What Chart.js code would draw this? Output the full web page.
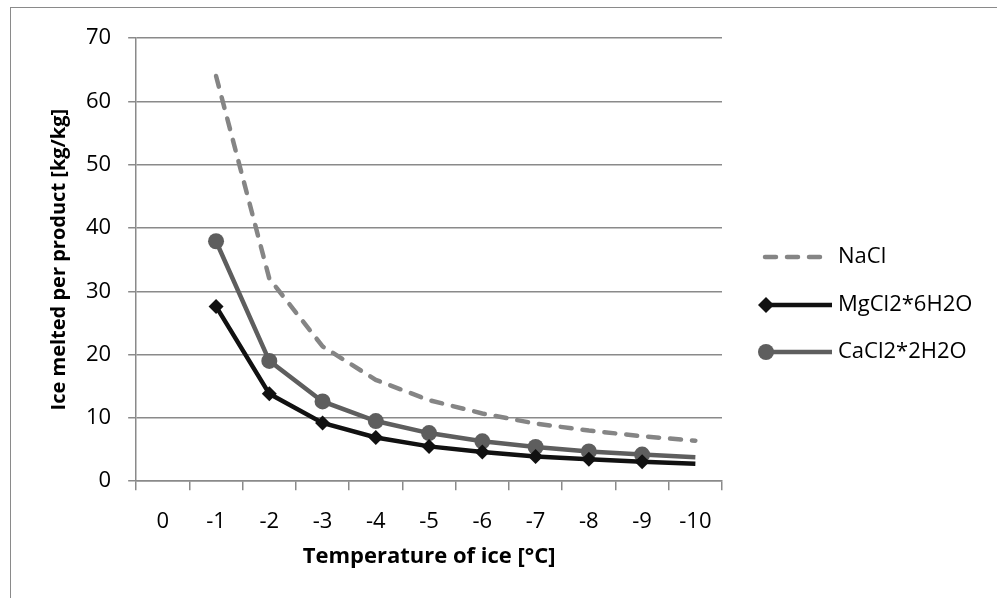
<!DOCTYPE html>
<html>
<head>
<meta charset="utf-8">
<script src="https://cdn.jsdelivr.net/npm/chart.js@4.4.1/dist/chart.umd.min.js"></script>
<style>
  html, body { margin: 0; padding: 0; background: #fff; }
  #frame { position: absolute; left: 10px; top: 7px; width: 1000px; height: 600px; border: 1px solid #8a8a8a; }
  #wrap { position: absolute; left: 0; top: 0; width: 997px; height: 598px; }
</style>
</head>
<body>
<div id="frame"></div>
<div id="wrap"><canvas id="grafico"></canvas></div>
<script>
// Categorías del eje X (temperatura del hielo)
const temperaturas = ['0', '-1', '-2', '-3', '-4', '-5', '-6', '-7', '-8', '-9', '-10'];

// Hielo fundido por producto [kg/kg]
const nacl = [null, 64, 32, 21.3, 16, 12.8, 10.7, 9.1, 8, 7.1, 6.4];
const mgcl2 = [null, 27.6, 13.8, 9.2, 6.9, 5.5, 4.6, 3.9, 3.45, 3.07, 2.76];
const cacl2 = [null, 37.9, 19, 12.6, 9.5, 7.6, 6.3, 5.4, 4.7, 4.2, 3.8];

const nombres = ['NaCl', 'MgCl2*6H2O', 'CaCl2*2H2O'];

const fuente = "'Open Sans', 'Liberation Sans', sans-serif";
const gris = '#8a8a8a';

// Marcadores en todos los puntos menos el último
const radios = (r) => temperaturas.map((t, i) => (i === temperaturas.length - 1 ? 0 : r));

// Leyenda dibujada a mano (línea + marcador como en Excel)
const leyendaPlugin = {
    id: 'leyendaExcel',
    afterDraw(chart) {
        const ctx = chart.ctx;
        const x0 = chart.chartArea.right + 41;
        const x1 = x0 + 69;
        const ys = [257, 305, 352];
        chart.data.datasets.forEach((ds, i) => {
            const y = ys[i];
            ctx.save();
            ctx.strokeStyle = ds.borderColor;
            ctx.lineWidth = ds.borderWidth;
            ctx.lineCap = ds.borderCapStyle || 'butt';
            ctx.setLineDash(ds.borderDash || []);
            ctx.beginPath();
            ctx.moveTo(x0 + (ds.borderDash ? 2 : 0), y);
            ctx.lineTo(ds.borderDash ? x1 - 6 : x1, y);
            ctx.stroke();
            ctx.setLineDash([]);
            if (ds.pointStyle && !ds.borderDash) {
                ctx.fillStyle = ds.pointBackgroundColor;
                ctx.beginPath();
                const r = ds.legendRadius;
                if (ds.pointStyle === 'circle') {
                    ctx.arc(x0 + 3, y, r, 0, Math.PI * 2);
                } else {
                    ctx.moveTo(x0 + 3, y - r);
                    ctx.lineTo(x0 + 3 + r, y);
                    ctx.lineTo(x0 + 3, y + r);
                    ctx.lineTo(x0 + 3 - r, y);
                    ctx.closePath();
                }
                ctx.fill();
            }
            ctx.fillStyle = '#000';
            ctx.font = '22px ' + fuente;
            ctx.textBaseline = 'middle';
            ctx.textAlign = 'left';
            ctx.fillText(ds.label, x1 + 6, y);
            ctx.restore();
        });
    }
};

const ctx = document.getElementById('grafico').getContext('2d');

new Chart(ctx, {
    type: 'line',
    data: {
        labels: temperaturas,
        datasets: [
            {
                label: nombres[0],
                data: nacl,
                borderColor: '#858585',
                borderWidth: 4.5,
                borderDash: [11, 11],
                borderCapStyle: 'round',
                pointRadius: 0,
                pointStyle: false,
                fill: false,
                tension: 0
            },
            {
                label: nombres[1],
                data: mgcl2,
                borderColor: '#111111',
                borderWidth: 4.5,
                pointStyle: 'rectRot',
                pointRadius: radios(7.5),
                pointBackgroundColor: '#111111',
                pointBorderColor: '#111111',
                pointBorderWidth: 0,
                legendRadius: 8,
                fill: false,
                tension: 0
            },
            {
                label: nombres[2],
                data: cacl2,
                borderColor: '#5e5e5e',
                borderWidth: 4.5,
                pointStyle: 'circle',
                pointRadius: radios(8),
                pointBackgroundColor: '#5e5e5e',
                pointBorderColor: '#5e5e5e',
                pointBorderWidth: 0,
                legendRadius: 8,
                fill: false,
                tension: 0
            }
        ]
    },
    options: {
        responsive: true,
        maintainAspectRatio: false,
        animation: false,
        layout: { padding: { left: 47, right: 275, top: 38, bottom: 28 } },
        plugins: {
            legend: { display: false },
            tooltip: { enabled: false }
        },
        scales: {
            x: {
                offset: true,
                grid: {
                    offset: true,
                    drawOnChartArea: false,
                    drawTicks: true,
                    tickLength: 9,
                    color: gris,
                    lineWidth: 1.5
                },
                border: { color: gris, width: 1.5 },
                ticks: {
                    color: '#000',
                    font: { family: fuente, size: 22 },
                    padding: 18,
                    maxRotation: 0,
                    autoSkip: false
                },
                title: {
                    display: true,
                    text: 'Temperature of ice [°C]',
                    color: '#000',
                    font: { family: fuente, size: 22, weight: 'bold' },
                    padding: { top: -9, bottom: 0 }
                }
            },
            y: {
                min: 0,
                max: 70,
                ticks: {
                    stepSize: 10,
                    color: '#000',
                    font: { family: fuente, size: 22 },
                    padding: 17
                },
                grid: {
                    color: gris,
                    lineWidth: 1.5,
                    tickLength: 8
                },
                border: { color: gris, width: 1.5 },
                title: {
                    display: true,
                    text: 'Ice melted per product [kg/kg]',
                    color: '#000',
                    font: { family: fuente, size: 20, weight: 'bold' },
                    padding: { top: 0, bottom: -2 }
                }
            }
        }
    },
    plugins: [leyendaPlugin]
});
</script>
</body>
</html>
